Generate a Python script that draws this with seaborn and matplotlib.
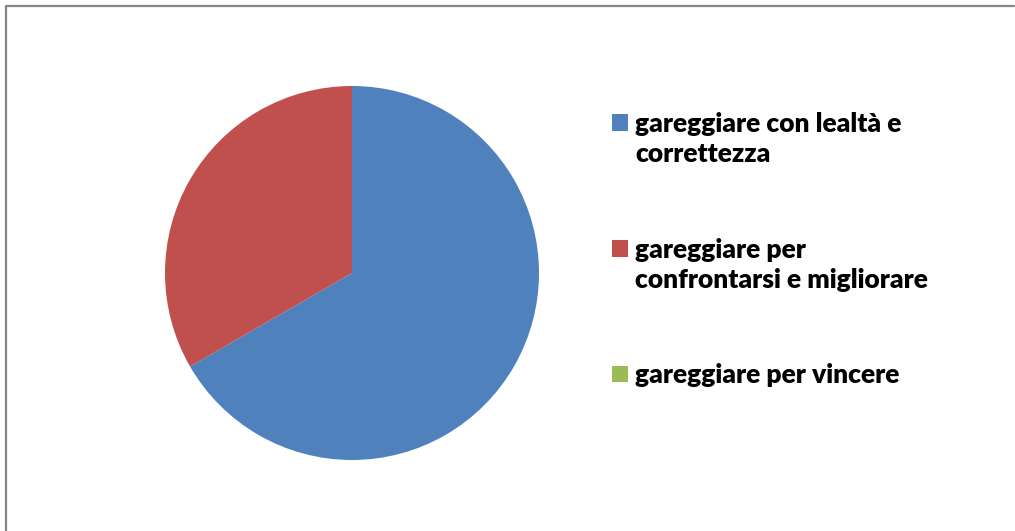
import matplotlib
matplotlib.use("Agg")
import matplotlib.pyplot as plt
import seaborn as sns
from matplotlib.patches import Patch, Rectangle
from matplotlib.lines import Line2D
from matplotlib.legend_handler import HandlerPatch

labels = [
    "gareggiare con lealtà e\ncorrettezza",
    "gareggiare per\nconfrontarsi e migliorare",
    "gareggiare per vincere",
]
values = [2, 1, 0]
colors = ["#4F81BD", "#C0504D", "#9BBB59"]

sns.set_style("white")
plt.rcParams["font.family"] = ["Lato", "DejaVu Sans"]
plt.rcParams["text.color"] = "black"

W, H = 1015, 531
fig = plt.figure(figsize=(W / 100, H / 100), dpi=100)

# pie axes: centre ~ (352, 273) px, radius ~ 187 px
cx, cy, r = 352, 273, 187
ax = fig.add_axes([(cx - r) / W, (H - cy - r) / H, 2 * r / W, 2 * r / H])
palette = sns.color_palette(colors)
ax.pie(values, colors=palette, startangle=90, counterclock=False,
       wedgeprops=dict(linewidth=0), radius=1)
ax.set_xlim(-1, 1)
ax.set_ylim(-1, 1)
ax.set_aspect("equal")
ax.axis("off")

# chart frame (only top and left edges visible in the crop)
fig.add_artist(Line2D([5.5 / W, 5.5 / W], [0, 1 - 5.5 / H], transform=fig.transFigure,
                      color="#868686", linewidth=1.6))
fig.add_artist(Line2D([5.5 / W, 1014 / W], [1 - 5.5 / H, 1 - 5.5 / H], transform=fig.transFigure,
                      color="#868686", linewidth=1.6))

LS = 1.32


# legend squares sit next to the first line of a wrapped label
def square(shift):
    def make(legend, orig_handle, xdescent, ydescent, width, height, fontsize):
        return Rectangle((-xdescent, -ydescent + shift * fontsize), width, height)
    return make


handles = [Patch(facecolor=c, edgecolor="none") for c in palette]
hmap = {h: HandlerPatch(patch_func=square(0.5 * LS * lab.count("\n")))
        for h, lab in zip(handles, labels)}
fs = 19
leg = fig.legend(handles, labels, loc="upper left", handler_map=hmap,
                 bbox_to_anchor=(612 / W, 1 - 112 / H),
                 frameon=False, borderpad=0, borderaxespad=0,
                 prop=dict(family=["Lato", "DejaVu Sans"], weight="heavy", size=fs),
                 handlelength=0.6, handleheight=0.6, handletextpad=0.27,
                 labelspacing=2.7)
for t in leg.get_texts():
    t.set_linespacing(LS)

fig.savefig("out.png", dpi=100, facecolor="white")
